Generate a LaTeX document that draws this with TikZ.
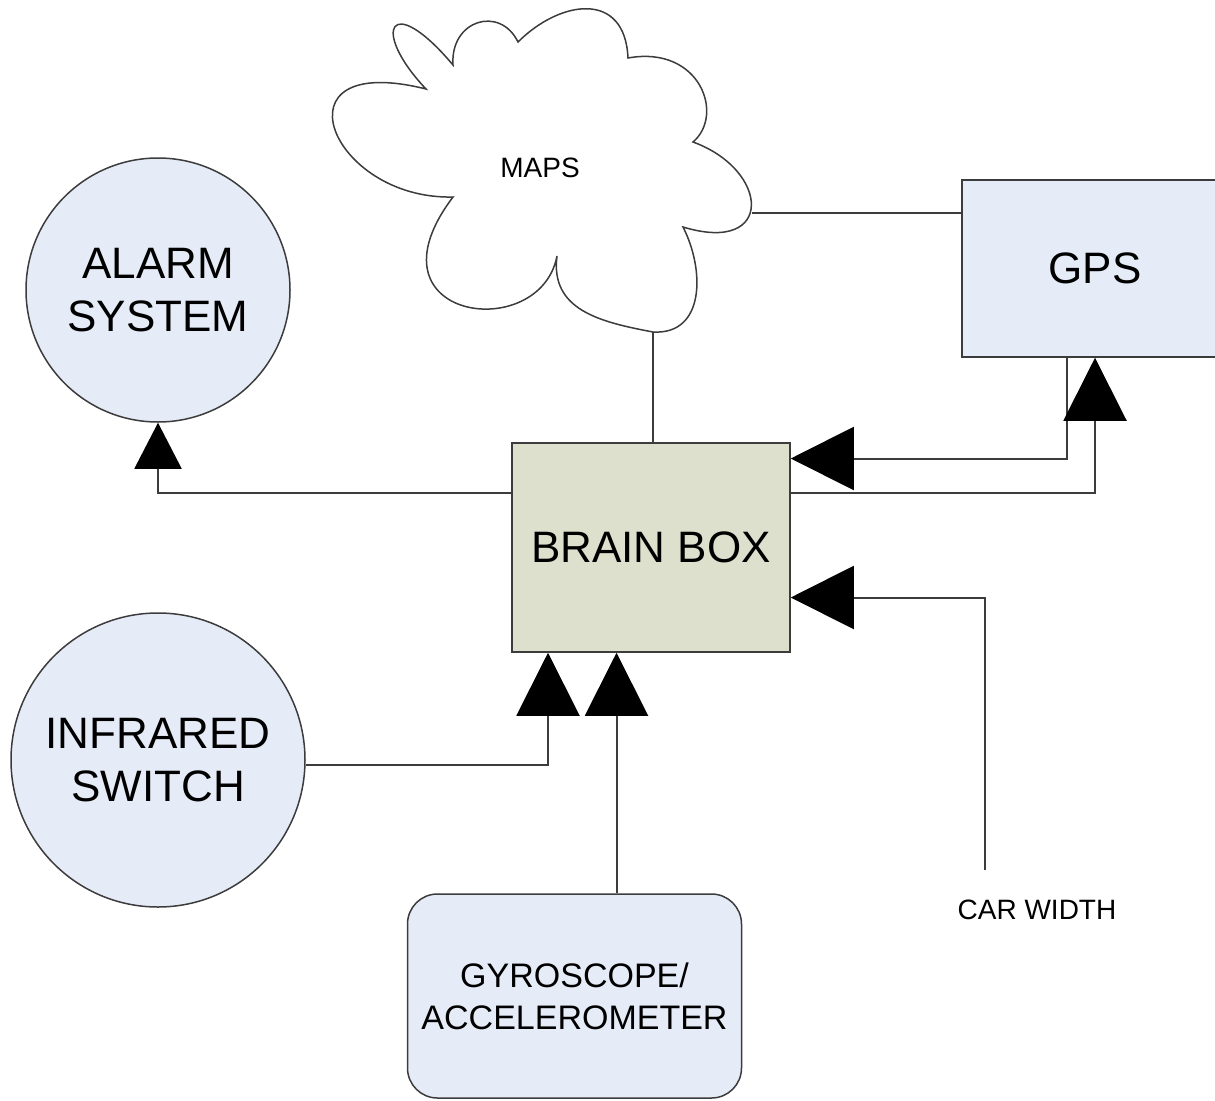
\documentclass[tikz,border=0pt]{standalone}
\usepackage{fontspec}
\setmainfont{Liberation Sans}
\usetikzlibrary{arrows.meta, calc}
\definecolor{boxblue}{RGB}{230,236,247}
\definecolor{brainfill}{RGB}{220,224,204}
\definecolor{edgegray}{RGB}{60,60,60}
\begin{document}
\begin{tikzpicture}[x=1pt, y=-1pt,
    big/.style={font=\fontsize{44}{53}\selectfont, align=center},
    small/.style={font=\fontsize{34}{42}\selectfont, align=center},
    block/.style={draw=edgegray, line width=1.5pt, inner sep=0pt},
    circ/.style={block, circle, fill=boxblue, big},
    conn/.style={draw=edgegray, line width=2pt},
    bigtip/.style={-{Triangle[length=63pt, width=63pt, color=black]}},
    smalltip/.style={-{Triangle[length=46pt, width=47pt, color=black]}}]
    \useasboundingbox (0,0) rectangle (1215,1100);

    % Cloud (maps)
    \draw[edgegray, line width=1.5pt, fill=white]
        (426,89) .. controls (370,30) and (390,-10) .. (453,65)
        .. controls (450,20) and (500,5) .. (518,42)
        .. controls (560,0) and (625,-10) .. (628,58)
        .. controls (700,45) and (725,115) .. (693,142)
        .. controls (770,170) and (775,255) .. (683,227)
        .. controls (705,270) and (705,335) .. (653,332)
        .. controls (600,322) and (550,310) .. (557,256)
        .. controls (540,345) and (360,320) .. (453,197)
        .. controls (330,200) and (270,50) .. (426,89) -- cycle;
    \node[font=\fontsize{28}{34}\selectfont] (maps) at (540,168) {MAPS};
    \coordinate (mapsS) at (653,332);
    \coordinate (mapsE) at (752,213);

    % Blocks
    \node[circ, minimum size=264pt] (alarm) at (158,290) {ALARM\\SYSTEM};
    \node[circ, minimum size=294pt] (infra) at (158,760) {INFRARED\\SWITCH};
    \node[block, fill=brainfill, big, minimum width=278pt, minimum height=209pt] (brain) at (651,547.5) {BRAIN BOX};
    \node[block, fill=boxblue, big, minimum width=266pt, minimum height=177pt] (gps) at (1095,268.5) {GPS};
    \node[block, fill=boxblue, small, rounded corners=30pt, minimum width=334pt, minimum height=204pt] (gyro) at (574.5,996) {GYROSCOPE/\\ACCELEROMETER};
    \node[font=\fontsize{28}{34}\selectfont] (carlabel) at (1037,910) {CAR WIDTH};
    \coordinate (carw) at (985,870);

    % Connectors
    \draw[conn] (mapsS) -- (mapsS |- brain.north);
    \draw[conn] (mapsE) -- (mapsE -| gps.west);
    \draw[conn, smalltip] ([yshift=55pt]brain.west) -| (alarm.south);
    \draw[conn, bigtip] ([xshift=-28pt]gps.south) |- ([yshift=89pt]brain.east);
    \draw[conn, bigtip] ([yshift=55pt]brain.east) -| (gps.south);
    \draw[conn, bigtip] (carw) |- ([yshift=-50pt]brain.east);
    \draw[conn, bigtip] ([yshift=-5pt]infra.east) -| ([xshift=-103pt]brain.south);
    \draw[conn, bigtip] ([xshift=42pt]gyro.north) -- ([xshift=42pt]gyro.north |- brain.south);
\end{tikzpicture}
\end{document}
